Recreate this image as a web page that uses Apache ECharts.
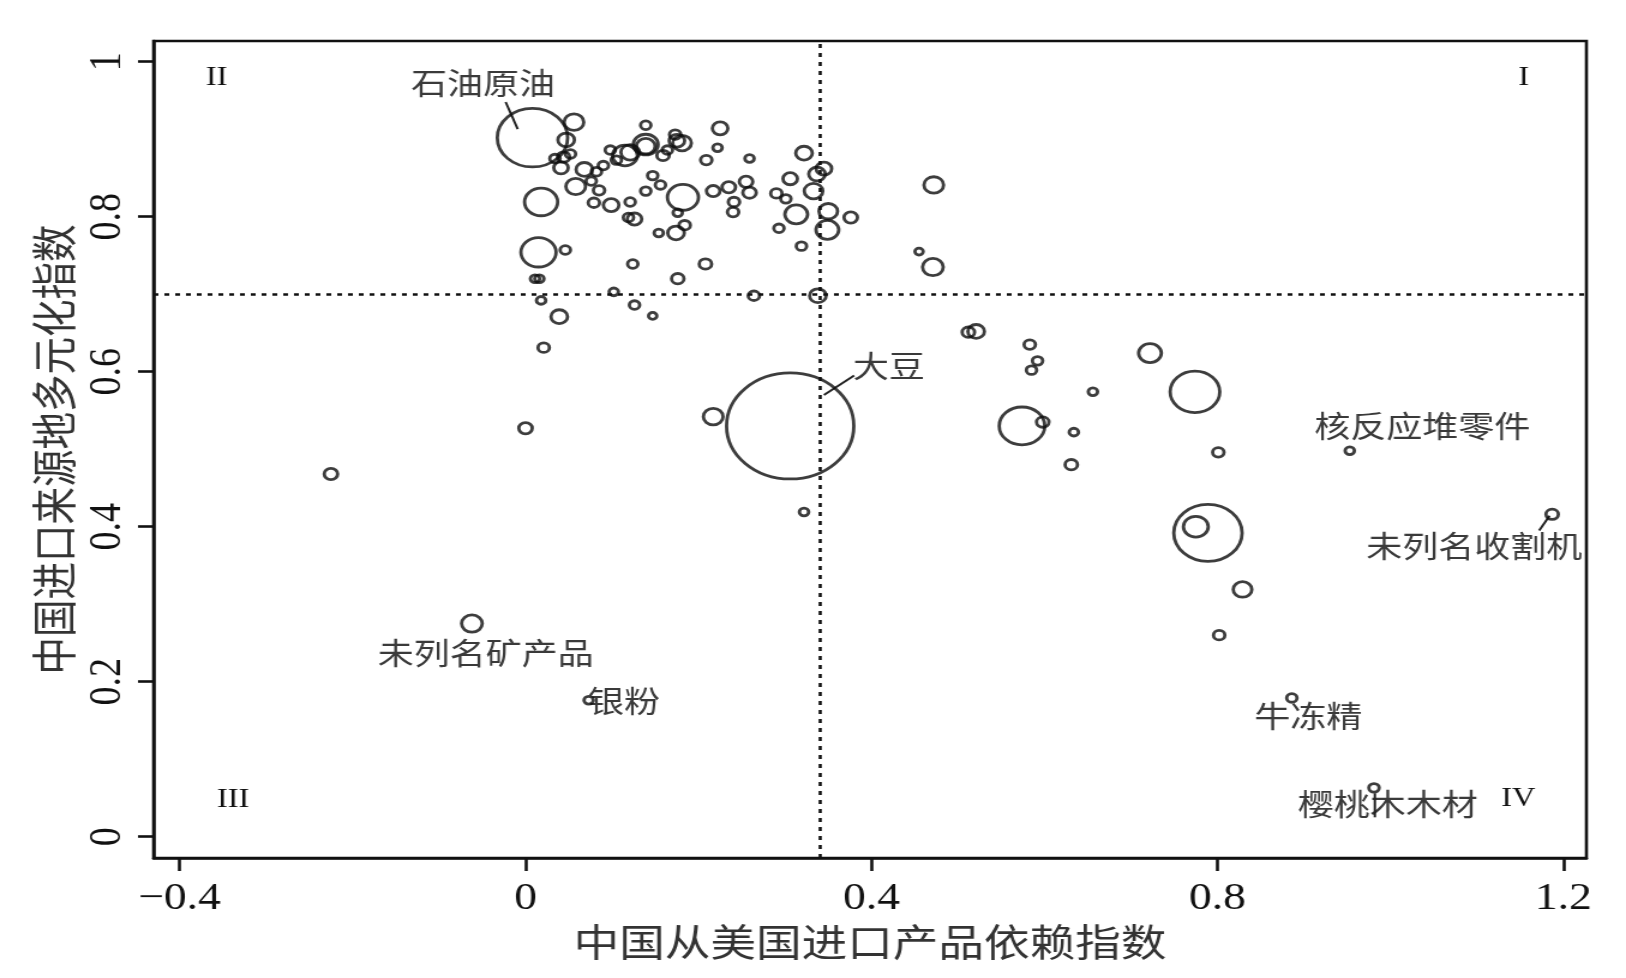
<!DOCTYPE html>
<html>
<head>
  <meta charset="utf-8">
  <title>中国从美国进口产品依赖指数与进口来源地多元化指数</title>
  <style>
    html, body { margin: 0; padding: 0; background: #fff; overflow: hidden; }
    /* the source figure is stretched horizontally, so the chart is drawn narrower and scaled */
    #box { width: 1355px; height: 978px; transform: scaleX(1.2); transform-origin: 0 0; }
  </style>
</head>
<body>
  <div id="box"></div>
  <script src="https://cdn.jsdelivr.net/npm/echarts@6/dist/echarts.min.js"></script>
  <script type="text/javascript">
    // 中国从美国进口产品依赖指数 (x)
    var xDep = [0.008, 0.306, 0.789, 0.775, 0.774, 0.574, 0.722, 0.829, 0.802, 0.801,
      0.631, 0.634, 0.598, 0.656, 0.583, 0.592, 0.585, 0.512, 0.521, 0.953,
      1.187, 0.886, 0.981, -0.062, 0.073, -0.225, 0.000, 0.217, 0.322, 0.338,
      0.472, 0.471, 0.455, 0.376, 0.349, 0.350, 0.345, 0.337, 0.333, 0.322,
      0.306, 0.313, 0.319, 0.293, 0.290, 0.301, 0.264, 0.225, 0.222, 0.259,
      0.209, 0.255, 0.259, 0.235, 0.217, 0.240, 0.241, 0.208, 0.176, 0.182,
      0.174, 0.184, 0.176, 0.175, 0.181, 0.173, 0.164, 0.159, 0.139, 0.139,
      0.139, 0.121, 0.115, 0.105, 0.098, 0.090, 0.082, 0.076, 0.085, 0.079,
      0.099, 0.119, 0.126, 0.121, 0.139, 0.147, 0.156, 0.154, 0.124, 0.102,
      0.126, 0.147, 0.058, 0.056, 0.047, 0.044, 0.052, 0.034, 0.041, 0.068,
      0.018, 0.015, 0.046, 0.011, 0.016, 0.018, 0.039, 0.021];
    // 中国进口来源地多元化指数 (y)
    var yDiv = [0.902, 0.530, 0.392, 0.400, 0.574, 0.530, 0.624, 0.319, 0.260, 0.496,
      0.480, 0.522, 0.535, 0.574, 0.635, 0.614, 0.602, 0.651, 0.652, 0.498,
      0.416, 0.179, 0.063, 0.275, 0.176, 0.468, 0.527, 0.542, 0.419, 0.698,
      0.841, 0.735, 0.755, 0.799, 0.783, 0.807, 0.862, 0.855, 0.833, 0.882,
      0.849, 0.803, 0.762, 0.785, 0.830, 0.823, 0.698, 0.914, 0.889, 0.875,
      0.873, 0.845, 0.831, 0.838, 0.833, 0.806, 0.819, 0.739, 0.720, 0.825,
      0.779, 0.789, 0.805, 0.898, 0.895, 0.906, 0.886, 0.879, 0.918, 0.893,
      0.891, 0.883, 0.879, 0.873, 0.886, 0.866, 0.858, 0.846, 0.834, 0.818,
      0.815, 0.799, 0.797, 0.819, 0.833, 0.853, 0.841, 0.779, 0.739, 0.703,
      0.686, 0.672, 0.839, 0.922, 0.899, 0.877, 0.881, 0.875, 0.863, 0.861,
      0.819, 0.754, 0.757, 0.720, 0.720, 0.692, 0.671, 0.631];
    // relative bubble size (import weight)
    var weight = [68, 123, 66, 24, 48, 44, 22, 18, 11, 11,
      12, 9, 12, 9, 11, 10, 10, 12, 16, 9,
      12, 10, 10, 20, 9, 13, 13, 19, 9, 16,
      19, 20, 8, 13, 22, 18, 15, 16, 18, 16,
      14, 22, 10, 10, 11, 10, 11, 15, 9, 9,
      11, 13, 13, 13, 13, 11, 11, 12, 12, 30,
      16, 11, 9, 15, 18, 11, 10, 12, 10, 24,
      18, 18, 24, 10, 10, 10, 10, 10, 11, 11,
      15, 10, 14, 10, 10, 10, 10, 9, 10, 9,
      10, 8, 19, 19, 16, 12, 10, 10, 14, 16,
      32, 34, 10, 9, 9, 9, 16, 11];

    var xTicks = [-0.4, 0, 0.4, 0.8, 1.2];
    var yTicks = [0, 0.2, 0.4, 0.6, 0.8, 1];
    var xMean = 0.34, yMean = 0.696;

    // product annotations: text, anchor in data units
    var noteText = ['石油原油', '大豆', '核反应堆零件', '未列名收割机', '未列名矿产品', '银粉', '牛冻精', '樱桃木木材'];
    var noteX = [-0.049, 0.420, 1.037, 1.097, -0.046, 0.114, 0.905, 0.997];
    var noteY = [0.973, 0.608, 0.531, 0.376, 0.237, 0.176, 0.156, 0.043];
    // leader lines [x1, y1, x2, y2]
    var leaders = [
      [-0.023, 0.948, -0.009, 0.913],
      [0.345, 0.570, 0.380, 0.595],
      [1.172, 0.395, 1.184, 0.414],
      [0.982, 0.056, 0.982, 0.025]
    ];
    var quadText = ['I', 'II', 'III', 'IV'];
    var quadX = [1.154, -0.357, -0.338, 1.148];
    var quadY = [0.979, 0.979, 0.048, 0.049];

    var points = xDep.map(function (x, i) { return [x, yDiv[i], weight[i]]; });

    var serif = '"Liberation Serif", "DejaVu Serif", serif';
    var cjk = '"Noto Sans CJK SC", sans-serif';

    function fmt(v) {
      var s = String(Math.round(v * 10) / 10);
      return v < 0 ? '\u2212' + s.slice(1) : s;
    }

    var chart = echarts.init(document.getElementById('box'));
    chart.setOption({
      animation: false,
      backgroundColor: '#fff',
      grid: {
        left: 128, right: 33, top: 41, bottom: 120,
        show: true, borderColor: '#111', borderWidth: 2.6, backgroundColor: 'transparent'
      },
      xAxis: {
        type: 'value', min: -0.43, max: 1.2266,
        name: '中国从美国进口产品依赖指数', nameLocation: 'middle', nameGap: 57,
        nameTextStyle: { fontFamily: cjk, fontSize: 38, color: '#333' },
        splitLine: { show: false },
        axisLine: { show: true, onZero: false, lineStyle: { color: '#111', width: 2.6 } },
        axisTick: { show: true, customValues: xTicks, length: 13, lineStyle: { color: '#111', width: 2.6 } },
        axisLabel: { customValues: xTicks, formatter: fmt, margin: 22, fontFamily: serif, fontSize: 38, color: '#111' }
      },
      yAxis: {
        type: 'value', min: -0.0275, max: 1.0267,
        name: '中国进口来源地多元化指数', nameLocation: 'middle', nameGap: 62,
        nameTextStyle: { fontFamily: cjk, fontSize: 37.5, color: '#333' },
        splitLine: { show: false },
        axisLine: { show: true, onZero: false, lineStyle: { color: '#111', width: 2.6 } },
        axisTick: { show: true, customValues: yTicks, length: 13, lineStyle: { color: '#111', width: 2.6 } },
        axisLabel: { customValues: yTicks, formatter: fmt, rotate: 90, margin: 19, fontFamily: serif, fontSize: 38, color: '#111' }
      },
      series: [{
        type: 'scatter',
        data: points,
        symbol: 'circle',
        symbolSize: function (v) { return v[2] * 0.862; },
        itemStyle: { color: 'rgba(0,0,0,0)', borderColor: '#0d0d0d', borderWidth: 2.8 },
        emphasis: { disabled: true },
        markLine: {
          silent: true, symbol: 'none', animation: false,
          label: { show: false },
          lineStyle: { color: '#111', width: 2.6, type: [4, 5] },
          data: [{ xAxis: xMean }, { yAxis: yMean }]
        }
      }]
    });

    function px(x, y) { return chart.convertToPixel({ gridIndex: 0 }, [x, y]); }

    var elements = [];
    noteText.forEach(function (t, i) {
      var p = px(noteX[i], noteY[i]);
      elements.push({
        type: 'text', x: p[0], y: p[1], silent: true,
        style: { text: t, fontFamily: cjk, fontSize: 30, fill: '#3a3a3a', align: 'center', verticalAlign: 'middle' }
      });
    });
    leaders.forEach(function (l) {
      var a = px(l[0], l[1]), b = px(l[2], l[3]);
      elements.push({
        type: 'line', silent: true,
        shape: { x1: a[0], y1: a[1], x2: b[0], y2: b[1] },
        style: { stroke: '#222', lineWidth: 2 }
      });
    });
    quadText.forEach(function (t, i) {
      var p = px(quadX[i], quadY[i]);
      elements.push({
        type: 'text', x: p[0], y: p[1], silent: true,
        style: { text: t, fontFamily: serif, fontSize: 27, fill: '#111', align: 'center', verticalAlign: 'middle' }
      });
    });
    chart.setOption({ graphic: { elements: elements } });
  </script>
</body>
</html>
